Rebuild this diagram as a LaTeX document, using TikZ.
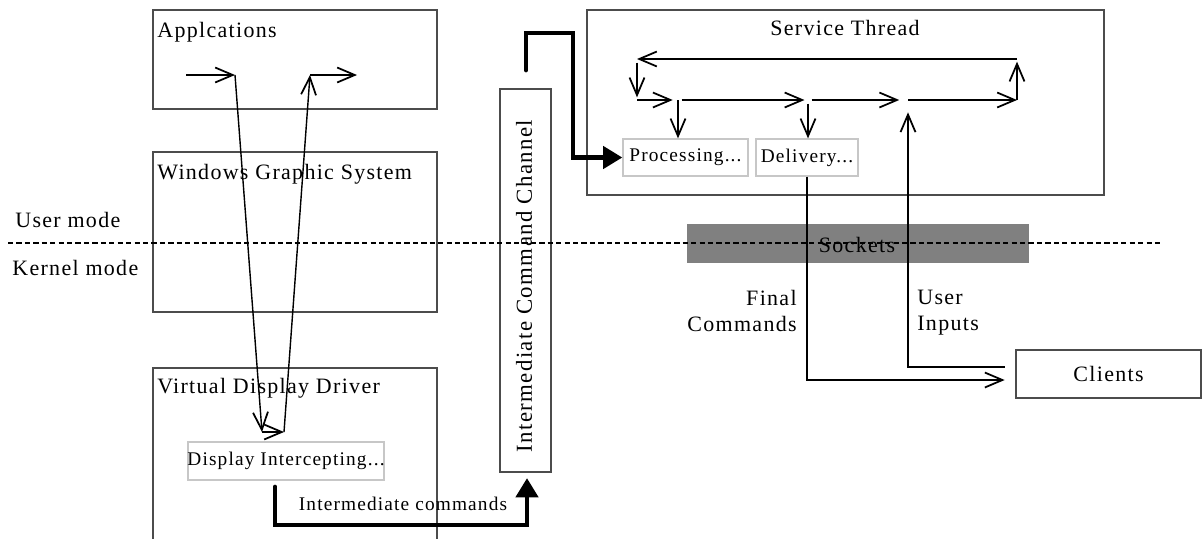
\documentclass[tikz,border=0pt]{standalone}
\usepackage{fontspec}
\setmainfont{Liberation Serif}[LetterSpace=6]
\usetikzlibrary{arrows.meta,fit,calc}
\begin{document}
\begin{tikzpicture}[x=0.02cm,y=-0.02cm,
  box/.style={draw=black!70, line width=0.9pt, inner sep=0pt},
  sbox/.style={draw=black!22, line width=0.7pt, fill=white, inner sep=0pt},
  txt/.style={inner sep=0pt, font=\fontsize{12.5}{14.7}\selectfont},
  smalltxt/.style={inner sep=0pt, font=\fontsize{11}{13}\selectfont},
  arr/.style={line width=0.8pt, -{Straight Barb[length=10pt,width=8.5pt,line width=1pt]}},
  thk/.style={line width=2.7pt, line cap=round, -{Triangle[length=11pt,width=12.5pt]}},
  modeline/.style={line width=0.7pt, dash pattern=on 3pt off 1.8pt}]
\path[use as bounding box] (0,0) rectangle (1202,538);

% boxes on the left
\node[box, fit={(153,10) (437,109)}] (apps) {};
\node[box, fit={(153,152) (437,312)}] (wgs) {};
\draw[draw=black!70, line width=0.9pt] (153,545) -- (153,368) -- (437,368) -- (437,545);
\coordinate (vddtl) at (153,368);
\node[sbox, fit={(188,442) (384,480)}] (disp) {};
\node[smalltxt] (tdisp) at (disp.center) {Display Intercepting...};

\node[txt, anchor=base west] (tapps) at (157,37) {Applcations};
\node[txt, anchor=base west] (twgs) at (157,179) {Windows Graphic System};
\node[txt, anchor=base west] (tvdd) at (157,393) {Virtual Display Driver};

% channel
\node[box, fit={(500,89) (551,472)}] (chan) {};
\node[rotate=90, inner sep=0pt, font=\fontsize{13}{15}\selectfont] (tchan) at (524,286) {Intermediate Command Channel};

% service thread
\node[box, fit={(587,10) (1104,195)}] (serv) {};
\node[txt, anchor=base] (tserv) at (845,35) {Service Thread};
\node[sbox, fit={(623,139) (748,176)}] (proc) {};
\node[smalltxt] (tproc) at (proc.center) {Processing...};
\node[sbox, fit={(756,139) (858,176)}] (deliv) {};
\node[smalltxt] (tdeliv) at (deliv.center) {Delivery...};

% clients
\node[box, fit={(1016,350) (1201,398)}] (clients) {};
\node[txt] (tclients) at (clients.center) {Clients};

% sockets and mode line
\node[fill=black!50, inner sep=0pt, fit={(687,224) (1029,263)}] (sock) {};
\coordinate (dl) at (8,243);
\coordinate (dr) at (1163,243);
\draw[modeline] (dl) -- (dr);
\node[txt, anchor=base] (tsock) at (857,252) {Sockets};
\node[txt, anchor=base west] (tuser) at (15,227) {User mode};
\node[txt, anchor=base west] (tkern) at (12,275) {Kernel mode};

% application arrows
\coordinate (a1) at (186,75);
\coordinate (a2) at (235,75);
\coordinate (a3) at (262,432);
\coordinate (a4) at (284,432);
\coordinate (a5) at (310,75);
\coordinate (a6) at (357,75);
\draw[arr] (a1) -- (a2);
\draw[arr] (a2) -- (a3);
\draw[arr] (a3) -- (a4);
\draw[arr] (a4) -- (a5);
\draw[arr] (a5) -- (a6);

% thick arrows
\coordinate (k1) at (275,487);
\coordinate (k2) at (527,525);
\draw[thk, shorten >=3pt] (k1) |- (k2) -- (k2 |- chan.south);
\node[smalltxt, anchor=base] (tic) at (403,510) {Intermediate commands};
\coordinate (m0) at (526,70);
\coordinate (m1) at (573,33);
\draw[thk] (m0) |- (m1) |- (proc.west);

% service thread loop
\coordinate (tl) at (637,59);
\coordinate (tr) at (1017,59);
\coordinate (rl) at (637,100);
\coordinate (rp) at (678,100);
\coordinate (rd) at (808,100);
\coordinate (ru) at (908,100);
\coordinate (rr) at (1017,100);
\draw[arr] (tr) -- (tl);
\draw[arr, shorten <=2pt, shorten >=1.5pt] (tl) -- (rl);
\draw[arr, shorten >=3pt] (rl) -- (rp);
\draw[arr, shorten <=2pt, shorten >=2pt] (rp) -- (rd);
\draw[arr, shorten <=2pt, shorten >=5pt] (rd) -- (ru);
\draw[arr] (ru) -- (rr);
\draw[arr, shorten >=1.5pt] (rr) -- (tr);
\draw[arr] (rp) -- (rp |- proc.north);
\draw[arr, shorten <=2pt] (rd) -- (rd |- deliv.north);

% final commands / user inputs
\coordinate (fcy) at (0,380);
\coordinate (uiy) at (0,367);
\draw[arr, shorten >=6pt] (deliv.south) |- (clients.west |- fcy);
\draw[arr, shorten >=7pt] ([xshift=-6pt]clients.west |- uiy) -| (ru);
\node[txt, align=right, anchor=north east] (tfc) at (797,290) {Final\\Commands};
\node[txt, align=left, anchor=north west] (tui) at (917,290) {User\\Inputs};
\end{tikzpicture}
\end{document}
